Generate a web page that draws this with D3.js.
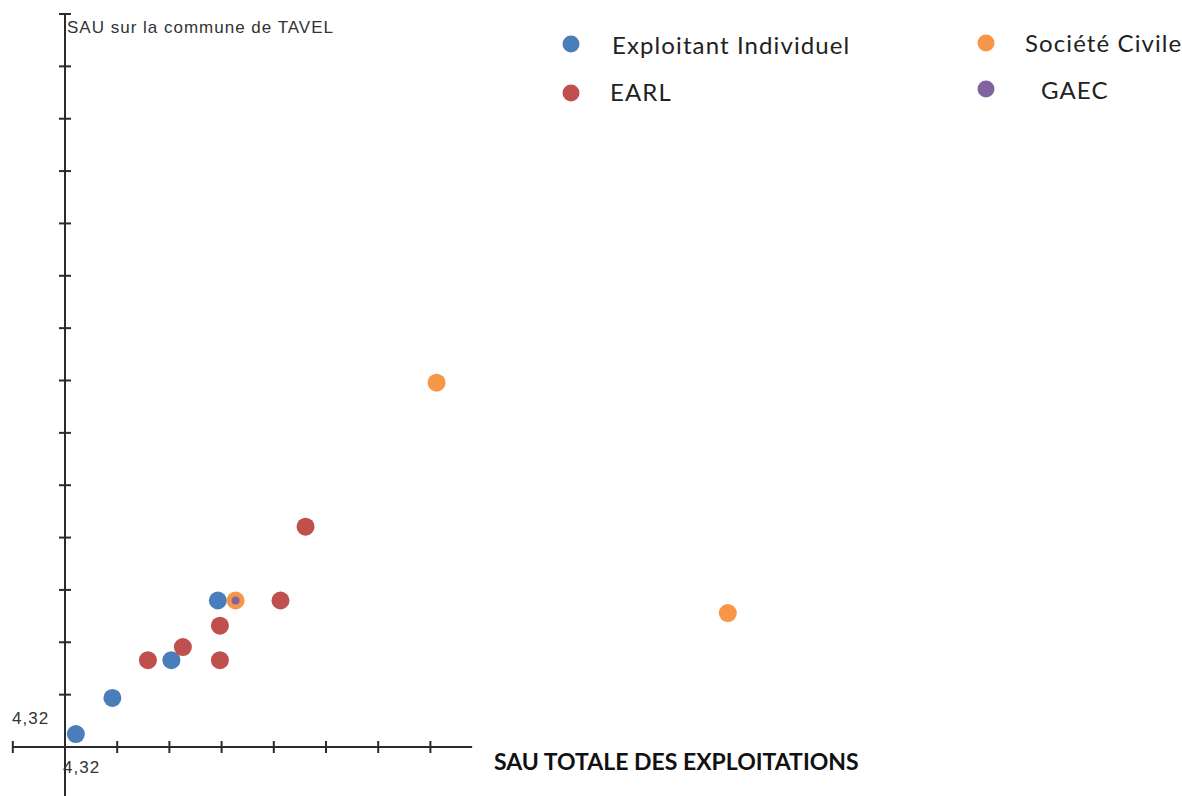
<!DOCTYPE html>
<html lang="fr">
<head>
<meta charset="utf-8">
<title>SAU sur la commune de TAVEL</title>
<script src="https://cdn.jsdelivr.net/npm/d3@7"></script>
<style>
  html, body { margin: 0; padding: 0; background: #fff; }
  svg { display: block; }
</style>
</head>
<body>
<svg id="chart" width="1182" height="796"></svg>
<script>
// Origin of both axes and the spacing between graduations (ha)
const origin = 4.32;
const step = 10;
const originLabel = "4,32";

// Series names and colours
const seriesNames = ["Exploitant Individuel", "EARL", "Société Civile", "GAEC"];
const seriesColors = ["#4a7ebb", "#c0504d", "#f79646", "#8064a2"];

// SAU totale (x) and SAU sur la commune (y), per legal form
const exploitantX = [6.4, 13.4, 24.7, 33.6];
const exploitantY = [6.8, 13.7, 20.9, 32.3];

const earlX = [20.2, 26.9, 34.0, 34.0, 45.6, 50.4];
const earlY = [20.9, 23.4, 20.9, 27.5, 32.3, 46.4];

const societeX = [37.0, 75.5, 131.3];
const societeY = [32.3, 73.9, 29.9];

const gaecX = [37.0];
const gaecY = [32.3];

// Graduation counts: x axis from one step left of the origin, y axis upward
const xTickIdx = [-1, 1, 2, 3, 4, 5, 6, 7];
const yTickIdx = [1, 2, 3, 4, 5, 6, 7, 8, 9, 10, 11, 12, 13, 14];

const svg = d3.select("#chart");
const W = 1182, H = 796;

const x = d3.scaleLinear().domain([origin, origin + step]).range([65, 117.2]);
const y = d3.scaleLinear().domain([origin, origin + 14 * step]).range([747, 14]);

svg.append("rect").attr("width", W).attr("height", H).attr("fill", "#fff");

const axisColor = "#2b2b2b";
const axes = svg.append("g");

// x axis line
axes.append("line")
  .attr("x1", x(origin - step)).attr("x2", x(origin + 7.8 * step))
  .attr("y1", y(origin)).attr("y2", y(origin))
  .attr("stroke", axisColor).attr("stroke-width", 2);

// y axis line (continues below the x axis)
axes.append("line")
  .attr("x1", x(origin)).attr("x2", x(origin))
  .attr("y1", y(origin + 14 * step)).attr("y2", H)
  .attr("stroke", axisColor).attr("stroke-width", 2);

// x graduations
axes.selectAll("line.xt").data(xTickIdx).join("line")
  .attr("class", "xt")
  .attr("x1", d => x(origin + d * step)).attr("x2", d => x(origin + d * step))
  .attr("y1", y(origin) - 6).attr("y2", y(origin) + 6)
  .attr("stroke", axisColor).attr("stroke-width", 2);

// y graduations
axes.selectAll("line.yt").data(yTickIdx).join("line")
  .attr("class", "yt")
  .attr("x1", x(origin) - 6).attr("x2", x(origin) + 6)
  .attr("y1", d => y(origin + d * step)).attr("y2", d => y(origin + d * step))
  .attr("stroke", axisColor).attr("stroke-width", 2);

// origin labels
const labelFont = "'Liberation Sans', Arial, sans-serif";
svg.append("text").text(originLabel)
  .attr("x", 12).attr("y", 724)
  .attr("font-family", labelFont).attr("font-size", 17)
  .attr("letter-spacing", 1).attr("fill", "#333");
svg.append("text").text(originLabel)
  .attr("x", 63).attr("y", 773)
  .attr("font-family", labelFont).attr("font-size", 17)
  .attr("letter-spacing", 1).attr("fill", "#333");

// axis titles
svg.append("text").text("SAU sur la commune de TAVEL")
  .attr("x", 67).attr("y", 33)
  .attr("font-family", labelFont).attr("font-size", 17)
  .attr("letter-spacing", 1).attr("fill", "#333");

svg.append("text").text("SAU TOTALE DES EXPLOITATIONS")
  .attr("x", 494).attr("y", 770)
  .attr("font-family", "Lato, 'Open Sans', sans-serif").attr("font-weight", "bold")
  .attr("font-size", 23).attr("fill", "#111");

// points
const series = [
  { xs: exploitantX, ys: exploitantY, color: seriesColors[0], r: 9 },
  { xs: earlX, ys: earlY, color: seriesColors[1], r: 9 },
  { xs: societeX, ys: societeY, color: seriesColors[2], r: 9 },
  { xs: gaecX, ys: gaecY, color: seriesColors[3], r: 4 }
];

const pts = svg.append("g");
series.forEach(s => {
  pts.append("g").selectAll("circle")
    .data(s.xs.map((v, i) => [v, s.ys[i]]))
    .join("circle")
    .attr("cx", d => x(d[0]))
    .attr("cy", d => y(d[1]))
    .attr("r", s.r)
    .attr("fill", s.color);
});

// legend, two columns
const legendPos = [
  { cx: 571, cy: 44, tx: 612, ty: 54 },
  { cx: 571, cy: 93, tx: 610, ty: 101 },
  { cx: 986, cy: 43, tx: 1025, ty: 52 },
  { cx: 986, cy: 89, tx: 1041, ty: 99 }
];
const legend = svg.append("g");
seriesNames.forEach((name, i) => {
  const p = legendPos[i];
  legend.append("circle").attr("cx", p.cx).attr("cy", p.cy).attr("r", 8.5).attr("fill", seriesColors[i]);
  legend.append("text").text(name)
    .attr("x", p.tx).attr("y", p.ty)
    .attr("font-family", "Lato, 'Open Sans', sans-serif")
    .attr("font-size", 24).attr("letter-spacing", 1.1).attr("fill", "#222");
});
</script>
</body>
</html>
